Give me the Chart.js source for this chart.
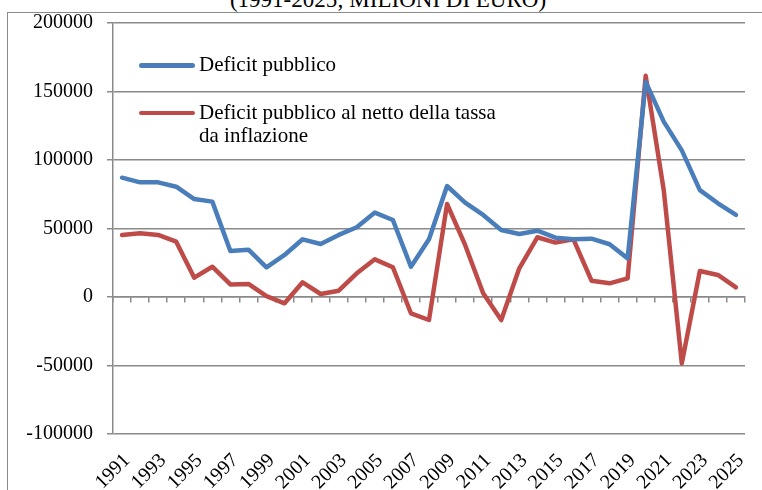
<!DOCTYPE html>
<html>
<head>
<meta charset="utf-8">
<script src="https://cdn.jsdelivr.net/npm/chart.js@4.4.1/dist/chart.umd.min.js"></script>
<style>
  html, body { margin: 0; padding: 0; background: #ffffff; }
  #wrap { position: relative; width: 762px; height: 490px; overflow: hidden; background: #ffffff; }
  #frame { position: absolute; left: 7px; top: 12px; width: 800px; height: 600px; border: 1px solid #8a8a8a; box-sizing: border-box; }
  #title { position: absolute; left: 0; width: 776px; top: -12px; text-align: center; font-family: 'Liberation Serif', 'Times New Roman', serif; font-size: 23px; line-height: 23px; color: #000; white-space: nowrap; }
  canvas { position: absolute; left: 0; top: 0; }
  #legend { position: absolute; left: 139px; top: 53px; font-family: 'Liberation Serif', 'Times New Roman', serif; font-size: 21px; line-height: 23px; color: #000; display: flex; flex-direction: column; gap: 24.5px; }
  .item { display: flex; align-items: flex-start; }
  .swatch { width: 56px; height: 4.5px; border-radius: 2.5px; margin-top: 10px; margin-right: 4px; flex: none; }
  .txt { width: 300px; }
</style>
</head>
<body>
<div id="wrap">
  <div id="frame"></div>
  <div id="title"></div>
  <canvas id="c" width="762" height="490"></canvas>
  <div id="legend"></div>
</div>
<script>
const titleText = '(1991-2025; MILIONI DI EURO)';
const years = ['1991','1992','1993','1994','1995','1996','1997','1998','1999','2000',
  '2001','2002','2003','2004','2005','2006','2007','2008','2009','2010',
  '2011','2012','2013','2014','2015','2016','2017','2018','2019','2020',
  '2021','2022','2023','2024','2025'];
const deficitPubblico = [87100, 83700, 83700, 80500, 71500, 69600, 33600, 34500, 21700, 30700,
  42100, 38700, 45300, 50900, 61600, 56200, 22100, 42100, 81000, 68900,
  59900, 48900, 46000, 48400, 43300, 42100, 42600, 38500, 28200, 157000,
  128000, 107000, 78000, 68400, 59900];
const deficitNetto = [45300, 46500, 45300, 40400, 14100, 22100, 9200, 9500, 700, -4600,
  10700, 2200, 4600, 17300, 27500, 21700, -11900, -16800, 67900, 38000,
  2700, -16800, 20900, 43600, 39700, 42100, 11900, 10000, 13600, 161500,
  78000, -48400, 19000, 16100, 7100];
const seriesNames = ['Deficit pubblico', 'Deficit pubblico al netto della tassa da inflazione'];
const seriesColors = ['#4A7EBB', '#BE4B48'];
const yMin = -100000, yMax = 200000, yStep = 50000;

document.getElementById('title').textContent = titleText;

const FONT = "'Liberation Serif', 'Times New Roman', serif";
const GRID = '#8a8a8a';

const chart = new Chart(document.getElementById('c'), {
  type: 'line',
  data: {
    labels: years,
    datasets: [
      { label: seriesNames[0], data: deficitPubblico, borderColor: seriesColors[0], backgroundColor: seriesColors[0] },
      { label: seriesNames[1], data: deficitNetto, borderColor: seriesColors[1], backgroundColor: seriesColors[1] }
    ]
  },
  options: {
    responsive: false,
    devicePixelRatio: 1,
    animation: false,
    layout: { padding: { top: 23, right: 17, bottom: 0, left: 0 } },
    elements: {
      line: { borderWidth: 4.5, tension: 0, borderCapStyle: 'round', borderJoinStyle: 'round' },
      point: { radius: 0, hoverRadius: 0 }
    },
    plugins: { legend: { display: false }, title: { display: false }, tooltip: { enabled: false } },
    scales: {
      y: {
        min: yMin, max: yMax,
        afterFit: (s) => { s.width = 113; s.paddingTop = 0; s.paddingBottom = 0; },
        ticks: { stepSize: yStep, color: '#000', font: { family: FONT, size: 20 }, padding: 14,
                 callback: (v) => String(v) },
        grid: { color: GRID, lineWidth: 1.5, tickLength: 6, drawTicks: true },
        border: { color: GRID, width: 1.5 }
      },
      x: {
        type: 'category',
        position: { y: 0 },
        offset: true,
        afterFit: (s) => { s.paddingLeft = 0; s.paddingRight = 0; },
        ticks: { display: true, autoSkip: false, maxRotation: 0, minRotation: 0, callback: () => '', font: { size: 1 }, padding: 0 },
        grid: { offset: true, drawOnChartArea: false, drawTicks: true, tickLength: 5, color: GRID, lineWidth: 1.5 },
        border: { display: true, color: GRID, width: 1.5 }
      },
      x2: {
        type: 'category',
        position: 'bottom',
        labels: years,
        offset: true,
        afterFit: (s) => { s.height = 56; s.paddingLeft = 0; s.paddingRight = 0; },
        grid: { display: false, drawTicks: false, offset: true },
        border: { display: false },
        ticks: {
          autoSkip: false, minRotation: 45, maxRotation: 45, padding: 15, labelOffset: 5,
          color: '#000', font: { family: FONT, size: 20 },
          callback: (v, i) => (i % 2 === 0 ? years[i] : '')
        }
      }
    }
  }
});

const legend = document.getElementById('legend');
chart.data.datasets.forEach((ds) => {
  const item = document.createElement('div');
  item.className = 'item';
  const sw = document.createElement('span');
  sw.className = 'swatch';
  sw.style.background = ds.borderColor;
  const t = document.createElement('span');
  t.className = 'txt';
  t.textContent = ds.label;
  item.appendChild(sw);
  item.appendChild(t);
  legend.appendChild(item);
});
</script>
</body>
</html>
